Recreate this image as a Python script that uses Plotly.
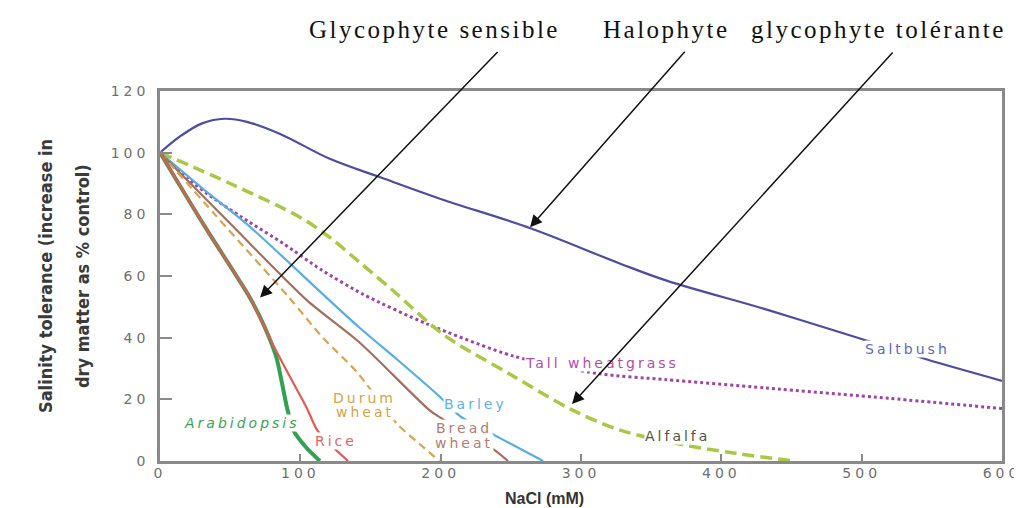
import plotly.graph_objects as go

# ---------------- data ----------------
saltbush_x = [0, 15, 30, 46, 62, 86, 121, 157, 200, 264, 328, 361, 433, 504, 546, 600]
saltbush_y = [100, 105.5, 109.5, 111, 110, 106, 98, 92, 85, 75.5, 64, 58.5, 49, 39, 33, 26]

tallwg_x = [0, 20, 40, 64, 88, 115, 145, 190, 252, 313, 360, 432, 520, 600]
tallwg_y = [100, 91.5, 84.6, 77.4, 70.5, 62, 54, 44.5, 34, 28.3, 26.4, 23.7, 20.3, 17]

alfalfa_x = [0, 50, 100, 121, 142, 166, 202, 250, 294, 328, 370, 410, 452]
alfalfa_y = [100, 90, 79, 72.5, 64.5, 55.3, 41, 28, 16.5, 10, 5.5, 2.5, 0]

barley_x = [0, 30, 64, 121, 142, 170, 199, 214, 242, 273]
barley_y = [100, 88.5, 76, 52, 43.3, 32.5, 21, 14.5, 7.5, 0]

bread_x = [0, 50, 105, 142, 192, 200, 237, 248]
bread_y = [100, 77, 52, 38.5, 16.5, 14, 4, 0]

durum_x = [0, 40, 92, 116, 140, 169, 185, 199]
durum_y = [100, 79.5, 53, 40, 29, 12, 5.5, 0]

rice_x = [0, 32, 64, 78, 90, 104.5, 112, 122, 134]
rice_y = [100, 76, 53, 40, 29.5, 17.3, 10, 5, 0]

arabid_x = [0, 32, 64, 75, 83, 90.5, 95, 104.5, 114]
arabid_y = [100, 76, 53, 43, 33.5, 17.3, 10, 4.2, 0]

X_TICKS = [0, 100, 200, 300, 400, 500, 600]
Y_TICKS = [0, 20, 40, 60, 80, 100, 120]

TOP_LABELS = ["Glycophyte sensible", "Halophyte", "glycophyte tolérante"]
Y_TITLE = ["Salinity tolerance (increase in", "dry matter as % control)"]
X_TITLE = "NaCl (mM)"

# ---------------- figure ----------------
fig = go.Figure()

def add(x, y, color, width, dash="solid", smoothing=0.7):
    fig.add_trace(go.Scatter(x=x, y=y, mode="lines",
                             line=dict(color=color, width=width, dash=dash,
                                       shape="spline", smoothing=smoothing),
                             hoverinfo="skip", showlegend=False))

add(saltbush_x, saltbush_y, "#4c4ca2", 2.2, smoothing=1.0)
add(tallwg_x, tallwg_y, "#9e45a6", 3, dash="3px,3px")
add(alfalfa_x, alfalfa_y, "#a9c944", 3.5, dash="12px,6px", smoothing=0.9)
add(barley_x, barley_y, "#58ade2", 2.2)
add(bread_x, bread_y, "#a2705c", 2.2)
add(durum_x, durum_y, "#d6a452", 2.2, dash="8px,5px")
add(arabid_x, arabid_y, "#34a052", 4)
add(rice_x, rice_y, "#e35a55", 2.2)

SP = '<span style="letter-spacing:{}px">{}</span>'
LBL_FONT = "DejaVu Sans, Verdana, sans-serif"

def label(txt, x, y, color, italic=False):
    t = SP.format(3, txt)
    if italic:
        t = "<i>" + t + "</i>"
    fig.add_annotation(x=x, y=y, xref="x", yref="y", text=t, showarrow=False,
                       font=dict(family=LBL_FONT, size=14, color=color),
                       bgcolor="white", borderpad=0, xanchor="center", yanchor="middle")

label("Arabidopsis", 58.4, 12.4, "#3aa456", italic=True)
label("Rice", 125.4, 6.5, "#e06466")
label("Durum", 146, 20.5, "#d4a448")
label("wheat", 146, 15.9, "#d4a448")
label("Barley", 224.5, 18.5, "#5eb2ea")
label("Bread", 216.6, 10.7, "#b47c74")
label("wheat", 216.6, 5.9, "#b47c74")
label("Tall wheatgrass", 315, 31.9, "#b14ea9")
label("Alfalfa", 369, 8.1, "#4f5447")
label("Saltbush", 533, 36.4, "#5a6ab8")

# top annotations (serif)
for txt, px in zip(TOP_LABELS, [0.3266, 0.602, 0.853]):
    fig.add_annotation(x=px, y=1.165, xref="paper", yref="paper",
                       text=SP.format(2.5, txt), showarrow=False,
                       font=dict(family="Liberation Serif, Times New Roman, serif", size=25, color="#111"),
                       xanchor="center", yanchor="middle")

# arrows (drawn last so they sit above the labels)
for tx, ty, ax, ay in [(71.3, 53, 239, -247), (263.7, 75.8, 156, -177), (293.6, 18.5, 322, -353)]:
    fig.add_annotation(x=tx, y=ty, xref="x", yref="y", text="", showarrow=True,
                       ax=ax, ay=ay, arrowhead=2, arrowsize=1.6, arrowwidth=1.5,
                       arrowcolor="#111", standoff=0)

# axis titles
for txt, px in zip(Y_TITLE, [-0.1366, -0.0926]):
    fig.add_annotation(x=px, y=0.5, xref="paper", yref="paper", text="<b>" + txt + "</b>",
                       textangle=-90, showarrow=False,
                       font=dict(family="Liberation Sans Narrow, DejaVu Sans Condensed, Liberation Sans, Arial, sans-serif",
                                 size=18, color="#3a3a3a"),
                       xanchor="center", yanchor="middle")
fig.add_annotation(x=0.457, y=-0.100, xref="paper", yref="paper", text="<b>" + X_TITLE + "</b>",
                   showarrow=False, font=dict(family="Liberation Sans, Arial, sans-serif", size=16, color="#333"),
                   xanchor="center", yanchor="middle")

tickfont = dict(family=LBL_FONT, size=14, color="#6f6f6f")
fig.update_xaxes(range=[0, 600], tickvals=X_TICKS,
                 ticktext=[SP.format(4, str(v)) for v in X_TICKS],
                 ticks="inside", ticklen=7, tickwidth=1.5, tickcolor="#8a8a8a",
                 showline=True, linecolor="#8a8a8a", linewidth=2.5, mirror=True,
                 showgrid=False, zeroline=False, tickfont=tickfont, ticklabelstandoff=-3,
                 automargin=False, ticklabeloverflow="allow")
fig.update_yaxes(range=[0, 120], tickvals=Y_TICKS,
                 ticktext=[SP.format(4, str(v)) for v in Y_TICKS],
                 ticks="inside", ticklen=12, tickwidth=1.5, tickcolor="#8a8a8a",
                 showline=True, linecolor="#8a8a8a", linewidth=2.5, mirror=True,
                 showgrid=False, zeroline=False, tickfont=tickfont, ticklabelstandoff=5,
                 automargin=False)

fig.update_layout(width=1022, height=508, margin=dict(l=152, r=28, t=83, b=55),
                  plot_bgcolor="white", paper_bgcolor="white", showlegend=False)

fig.write_html("out.html")
